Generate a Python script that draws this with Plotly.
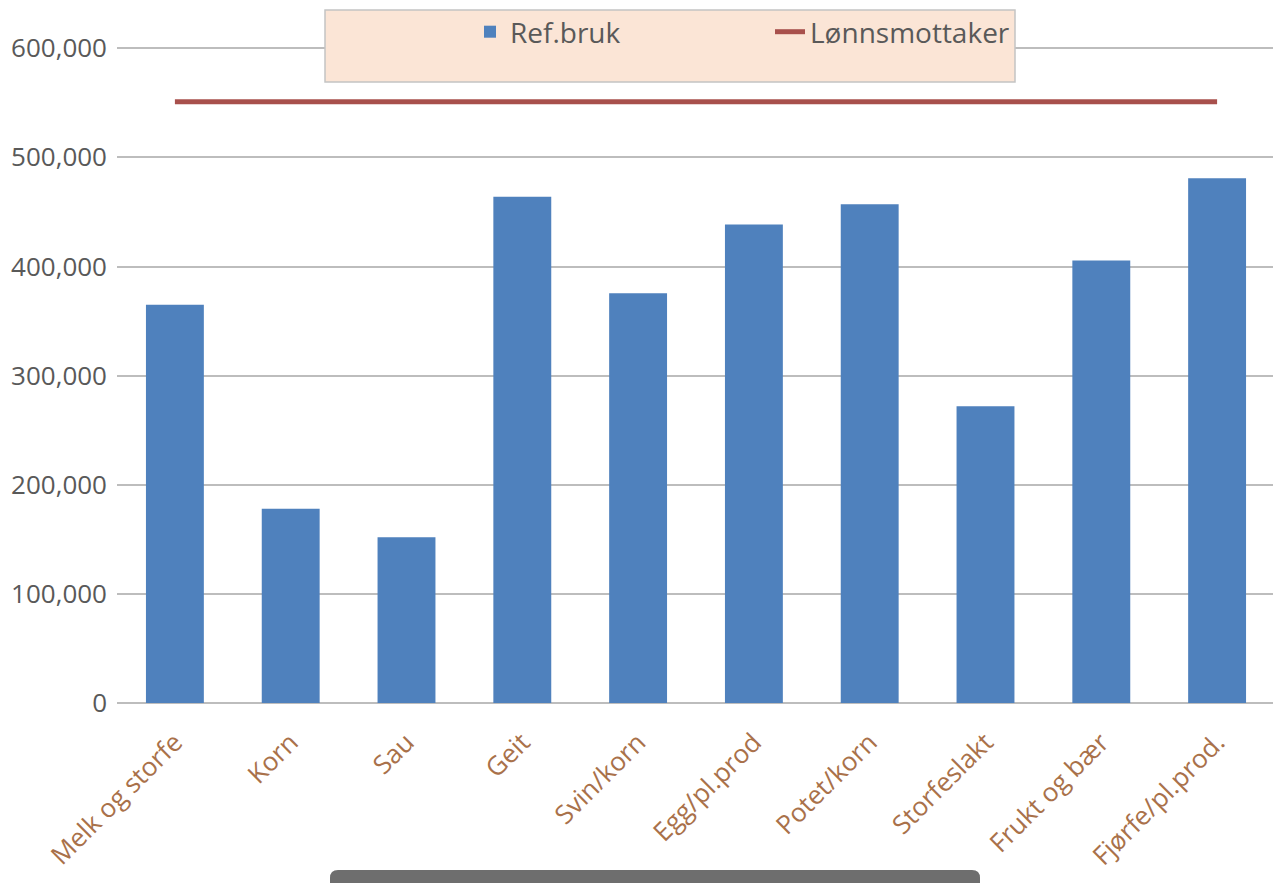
import plotly.graph_objects as go

categories = ["Melk og storfe", "Korn", "Sau", "Geit", "Svin/korn", "Egg/pl.prod",
              "Potet/korn", "Storfeslakt", "Frukt og bær", "Fjørfe/pl.prod."]
ref_bruk = [365000, 178000, 152000, 464000, 375500, 438500, 457000, 272000, 405500, 481000]
lonnsmottaker = [551000] * len(categories)
y_ticks = [0, 100000, 200000, 300000, 400000, 500000, 600000]
y_tick_text = ["0", "100,000", "200,000", "300,000", "400,000", "500,000", "600,000"]

W, H = 1281, 883
OFF = 8  # page body margin
L, T, B = 109, 37, 188
pw = 1158
R = W - L - pw
ph = H - T - B

def px(x):
    return (x - OFF - L) / pw

def py(y):
    return (H - B - (y - OFF)) / ph

fig = go.Figure()
fig.add_trace(go.Bar(x=categories, y=ref_bruk, name="Ref.bruk",
                     marker=dict(color="#4f81bd", line=dict(width=0)), width=0.5))
fig.add_trace(go.Scatter(x=categories, y=lonnsmottaker, name="Lønnsmottaker", mode="lines",
                         line=dict(color="#a8504c", width=5)))

fig.add_shape(type="rect", xref="paper", yref="paper",
              x0=px(325), x1=px(1015), y0=py(82), y1=py(10),
              fillcolor="#fbe5d6", line=dict(color="#c4c4c4", width=1.5), layer="above")

# rounded grey bar at the bottom
x0, x1, y0, y1, r = px(330), px(980), py(900), py(870), 8 / pw
ry = 8 / ph
path = (f"M {x0},{y0} L {x0},{y1 - ry} Q {x0},{y1} {x0 + r},{y1} "
        f"L {x1 - r},{y1} Q {x1},{y1} {x1},{y1 - ry} L {x1},{y0} Z")
fig.add_shape(type="path", xref="paper", yref="paper", path=path,
              fillcolor="#6e6e6e", line=dict(width=0), layer="above")

fig.update_layout(
    width=W, height=H,
    margin=dict(l=L, r=R, t=T, b=B, autoexpand=False),
    paper_bgcolor="white", plot_bgcolor="white",
    font=dict(family="Open Sans", size=25, color="#595959"),
    showlegend=True,
    legend=dict(orientation="h", x=px(470), y=py(32), xanchor="left", yanchor="middle",
                bgcolor="rgba(0,0,0,0)", font=dict(size=28, color="#595959"),
                entrywidth=255, traceorder="normal"),
    bargap=0.5,
    xaxis=dict(range=[-0.5, 9.5], tickangle=-45, showgrid=False, showline=False,
               tickfont=dict(color="#a9714a", size=26), ticks="", ticklabelstandoff=18),
    yaxis=dict(range=[0, 603000], tickvals=y_ticks, ticktext=y_tick_text,
               showgrid=True, gridcolor="#bdbdbd", gridwidth=2,
               zeroline=True, zerolinecolor="#bdbdbd", zerolinewidth=2,
               tickfont=dict(color="#595959", size=26), ticks="", ticklabelstandoff=9),
)

fig.write_html("out.html")
